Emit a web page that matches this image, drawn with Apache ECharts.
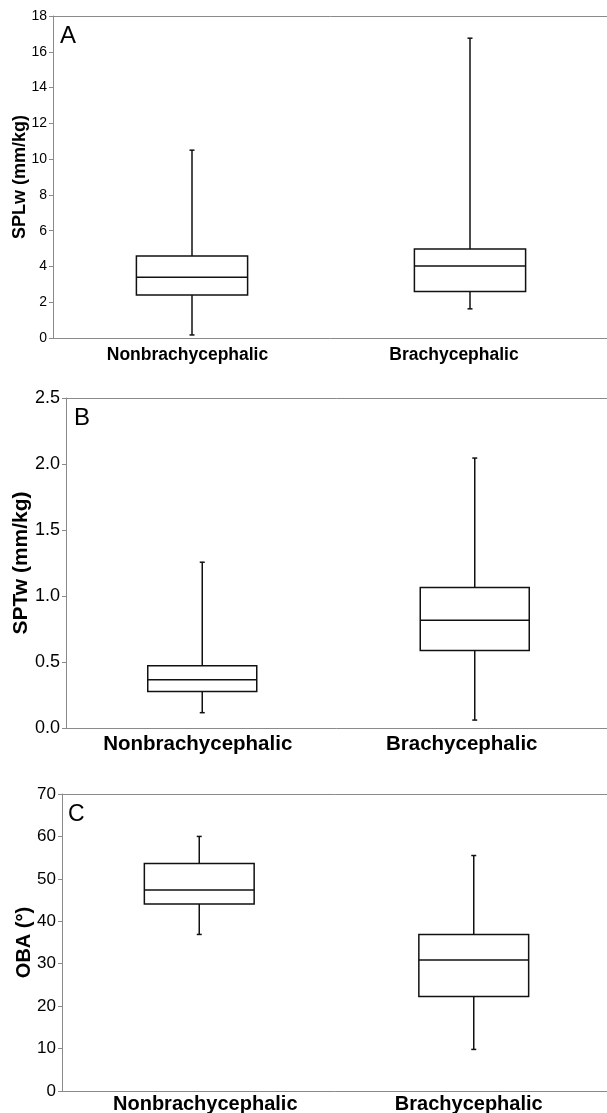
<!DOCTYPE html>
<html>
<head>
<meta charset="utf-8">
<title>SPLw / SPTw / OBA box plots</title>
<script src="https://cdn.jsdelivr.net/npm/echarts@6/dist/echarts.min.js"></script>
<style>
  html, body { margin: 0; padding: 0; background: #fff; }
  #chart { width: 607px; height: 1113px; }
</style>
</head>
<body>
<div id="chart"></div>
<script>
/* ── Data (min, Q1, median, Q3, max) ─────────────────────────────── */
const categories = ['Nonbrachycephalic', 'Brachycephalic'];
const splw = [[0.17, 2.4, 3.4, 4.58, 10.5], [1.63, 2.6, 4.03, 4.97, 16.76]];
const sptw = [[0.116, 0.277, 0.365, 0.471, 1.256], [0.06, 0.587, 0.817, 1.064, 2.045]];
const oba = [[36.9, 44.1, 47.4, 53.6, 60.0], [9.8, 22.3, 30.9, 36.9, 55.5]];

const yTicksA = { min: 0, max: 18, interval: 2 };
const yTicksB = { min: 0, max: 2.5, interval: 0.5 };
const yTicksC = { min: 0, max: 70, interval: 10 };

/* ── Helpers ──────────────────────────────────────────────────────── */
const FONT = '"Liberation Sans", Arial, Helvetica, sans-serif';
const AXIS_GREY = '#8a8a8a';
const INK = '#111';

function toRows(stats) {
    return stats.map((s, i) => [i].concat(s));
}

// box with short whisker caps, drawn through the axis scales
function renderBox(params, api) {
    const x = api.value(0);
    const lo = api.coord([x, api.value(1)]);
    const q1 = api.coord([x, api.value(2)]);
    const md = api.coord([x, api.value(3)]);
    const q3 = api.coord([x, api.value(4)]);
    const hi = api.coord([x, api.value(5)]);
    const half = api.size([1, 0])[0] * 0.2;
    const cap = 2.5;
    const cx = lo[0];
    const style = { stroke: INK, lineWidth: 1.5, fill: null };
    const line = (x1, y1, x2, y2) => ({ type: 'line', shape: { x1, y1, x2, y2 }, style });
    return {
        type: 'group',
        children: [
            line(cx, q1[1], cx, lo[1]),
            line(cx, q3[1], cx, hi[1]),
            line(cx - cap, lo[1], cx + cap, lo[1]),
            line(cx - cap, hi[1], cx + cap, hi[1]),
            {
                type: 'rect',
                shape: { x: cx - half, y: q3[1], width: half * 2, height: q1[1] - q3[1] },
                style: { stroke: INK, lineWidth: 1.5, fill: '#fff' }
            },
            line(cx - half, md[1], cx + half, md[1])
        ]
    };
}

// shifts: horizontal nudge of each category label (px, + = right)
function xAxisFor(idx, fontSize, margin, shifts) {
    const rich = {};
    shifts.forEach((s, i) => {
        rich['s' + i] = {
            color: '#000', fontFamily: FONT, fontWeight: 'bold', fontSize,
            padding: [0, s < 0 ? -2 * s : 0, 0, s > 0 ? 2 * s : 0]
        };
    });
    return {
        type: 'category',
        gridIndex: idx,
        data: categories,
        axisLine: { lineStyle: { color: AXIS_GREY, width: 1 } },
        axisTick: { show: false },
        axisLabel: {
            interval: 0, hideOverlap: false,
            color: '#000', fontFamily: FONT, fontWeight: 'bold', fontSize, margin,
            formatter: (v, i) => `{s${i}|${v}}`,
            rich
        },
        splitLine: { show: false }
    };
}

// top frame line of each panel
function topLineFor(idx) {
    return {
        type: 'category',
        gridIndex: idx,
        position: 'top',
        data: categories,
        axisLine: { show: true, lineStyle: { color: AXIS_GREY, width: 1 } },
        axisTick: { show: false },
        axisLabel: { show: false },
        splitLine: { show: false }
    };
}

function yAxisFor(idx, ticks, name, labelSize, nameSize, nameGap, fmt) {
    return {
        type: 'value',
        gridIndex: idx,
        min: ticks.min, max: ticks.max, interval: ticks.interval,
        name,
        nameLocation: 'middle',
        nameGap,
        nameMoveOverlap: false,
        nameTextStyle: { color: '#000', fontFamily: FONT, fontWeight: 'bold', fontSize: nameSize },
        axisLine: { show: true, lineStyle: { color: AXIS_GREY, width: 1 } },
        axisTick: { show: true, length: 4, lineStyle: { color: AXIS_GREY } },
        axisLabel: { color: '#000', fontFamily: FONT, fontSize: labelSize, margin: 6, formatter: fmt },
        splitLine: { show: false }
    };
}

function panelLetter(text, x, y, size) {
    return {
        type: 'text', left: x, top: y,
        style: { text, fill: '#000', font: `${size}px ${FONT}` }
    };
}

/* ── Chart ────────────────────────────────────────────────────────── */
const chart = echarts.init(document.getElementById('chart'), null, { renderer: 'canvas' });

const gridBase = { show: false, outerBoundsMode: 'none', containLabel: false };

chart.setOption({
    backgroundColor: '#fff',
    animation: false,
    grid: [
        Object.assign({ left: 53, top: 16, width: 556, height: 322 }, gridBase),
        Object.assign({ left: 66, top: 398, width: 545, height: 330 }, gridBase),
        Object.assign({ left: 62, top: 794, width: 549, height: 297 }, gridBase)
    ],
    xAxis: [
        xAxisFor(0, 17.5, 8, [-4.5, -16]),
        xAxisFor(1, 20.5, 6, [-4.5, -13]),
        xAxisFor(2, 20, 3, [6, -5]),
        topLineFor(0),
        topLineFor(1),
        topLineFor(2)
    ],
    yAxis: [
        yAxisFor(0, yTicksA, 'SPLw (mm/kg)', 14, 18, 24, v => String(v)),
        yAxisFor(1, yTicksB, 'SPTw (mm/kg)', 18, 21, 34, v => v.toFixed(1)),
        yAxisFor(2, yTicksC, 'OBA (°)', 17, 20, 28, v => String(v))
    ],
    graphic: [
        panelLetter('A', 60, 24, 24),
        panelLetter('B', 74, 406, 24),
        panelLetter('C', 68, 803, 23)
    ],
    series: [
        { type: 'custom', xAxisIndex: 0, yAxisIndex: 0, renderItem: renderBox, data: toRows(splw) },
        { type: 'custom', xAxisIndex: 1, yAxisIndex: 1, renderItem: renderBox, data: toRows(sptw) },
        { type: 'custom', xAxisIndex: 2, yAxisIndex: 2, renderItem: renderBox, data: toRows(oba) }
    ]
});

window.addEventListener('resize', () => chart.resize());
</script>
</body>
</html>
